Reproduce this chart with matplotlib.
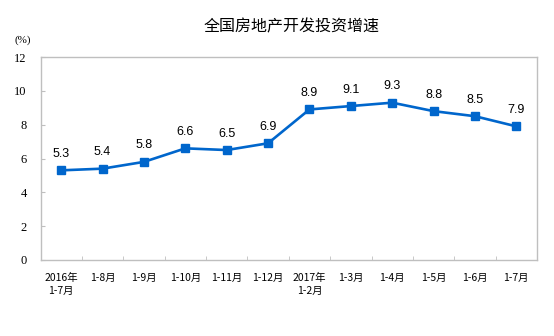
import matplotlib
matplotlib.use("Agg")
import matplotlib.pyplot as plt
from matplotlib.ticker import MultipleLocator, FixedLocator

plt.rcParams['font.family'] = ['Noto Sans CJK SC', 'DejaVu Sans']

periods = ["2016年\n1-7月", "1-8月", "1-9月", "1-10月", "1-11月", "1-12月",
           "2017年\n1-2月", "1-3月", "1-4月", "1-5月", "1-6月", "1-7月"]
growth = [5.3, 5.4, 5.8, 6.6, 6.5, 6.9, 8.9, 9.1, 9.3, 8.8, 8.5, 7.9]
title = "全国房地产开发投资增速"

line_color = "#0066CC"
frame_color = "#BFBFBF"

fig = plt.figure(figsize=(5.54, 3.36), dpi=100)
ax = fig.add_axes([40.5 / 554, 1 - 260 / 336, 496.5 / 554, 203 / 336])

x = list(range(len(periods)))
ax.plot(x, growth, color=line_color, lw=1.9, marker="s", ms=5.5, zorder=3)
for xi, v in zip(x, growth):
    ax.annotate(f"{v}", (xi, v), xytext=(0, 7.5), textcoords="offset points",
                ha="center", va="bottom", fontsize=9, family="Liberation Sans")

ax.set_xlim(-0.5, len(periods) - 0.5)
ax.set_ylim(0, 12)
ax.yaxis.set_major_locator(MultipleLocator(2))
ax.set_xticks(x)
ax.set_xticklabels(periods, fontsize=7.5, linespacing=1.4)
ax.xaxis.set_minor_locator(FixedLocator([i + 0.5 for i in range(len(periods) - 1)]))
ax.tick_params(axis="x", which="major", length=0, pad=9)
ax.tick_params(axis="x", which="minor", direction="in", length=3, color=frame_color)
ax.tick_params(axis="y", direction="in", length=3, color=frame_color, pad=10, labelsize=9)
for lbl in ax.get_yticklabels():
    lbl.set_family("Liberation Serif")
for s in ax.spines.values():
    s.set_color(frame_color)
    s.set_linewidth(1)

fig.text(292 / 554, 1 - 27 / 336, title, ha="center", va="center", fontsize=11.5)
fig.text(23 / 554, 1 - 40 / 336, "(%)", ha="center", va="center", fontsize=8,
         family="Liberation Serif")

fig.savefig("out.png", dpi=100)
